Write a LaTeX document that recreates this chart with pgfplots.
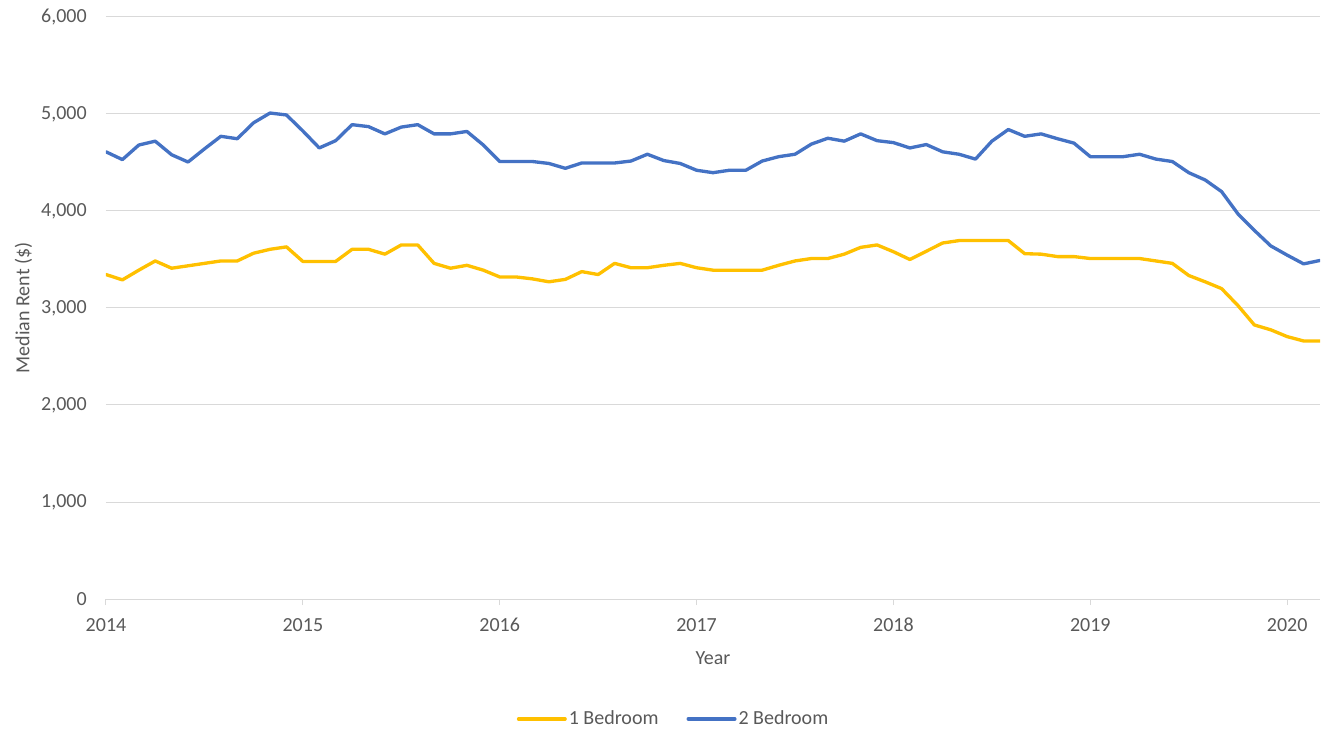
\documentclass[border=0pt]{standalone}
\usepackage{pgfplots}
\pgfplotsset{compat=1.18}
\usepackage{pgfplotstable}
\usepackage{fontspec}
\setmainfont{Carlito}
\usetikzlibrary{calc}

\definecolor{bedone}{HTML}{FFC000}
\definecolor{bedtwo}{HTML}{4472C4}
\definecolor{gridgray}{HTML}{D9D9D9}
\definecolor{textgray}{HTML}{595959}

% Monthly median rent, month 0 = January 2014
\pgfplotstableread{
m  one   two
0  3345  4610
1  3290  4530
2  3390  4680
3  3485  4720
4  3410  4580
5  3435  4505
6  3460  4640
7  3485  4770
8  3485  4745
9  3565  4910
10 3605  5010
11 3630  4990
12 3480  4825
13 3480  4650
14 3480  4725
15 3605  4890
16 3605  4870
17 3555  4795
18 3650  4865
19 3650  4890
20 3460  4795
21 3410  4795
22 3440  4820
23 3390  4680
24 3320  4510
25 3320  4510
26 3300  4510
27 3270  4490
28 3295  4440
29 3375  4495
30 3345  4495
31 3460  4495
32 3415  4515
33 3415  4585
34 3440  4520
35 3460  4490
36 3415  4420
37 3390  4395
38 3390  4420
39 3390  4420
40 3390  4515
41 3440  4560
42 3485  4585
43 3510  4690
44 3510  4750
45 3555  4720
46 3625  4795
47 3650  4725
48 3580  4705
49 3500  4650
50 3585  4685
51 3670  4610
52 3695  4585
53 3695  4535
54 3695  4720
55 3695  4840
56 3560  4770
57 3555  4795
58 3530  4745
59 3530  4700
60 3510  4560
61 3510  4560
62 3510  4560
63 3510  4585
64 3485  4535
65 3460  4510
66 3335  4395
67 3270  4320
68 3200  4200
69 3025  3970
70 2825  3800
71 2775  3640
72 2705  3545
73 2660  3455
74 2660  3490
}\rentdata

\begin{document}
\fontsize{15}{18}\selectfont
\begin{tikzpicture}
\begin{axis}[
  name=ax,
  scale only axis,
  width=910.5pt, height=436.5pt,
  xmin=0, xmax=74, ymin=0, ymax=6000,
  xtick={0,12,...,72},
  xticklabels={2014,2015,2016,2017,2018,2019,2020},
  ytick={0,1000,...,6000},
  scaled y ticks=false,
  /pgf/number format/assume math mode=true,
  /pgf/number format/1000 sep={,},
  axis x line*=bottom, axis y line*=left,
  x axis line style={draw=gridgray, line width=0.75pt},
  y axis line style={draw=none},
  ymajorgrids,
  grid style={draw=gridgray, line width=0.75pt},
  tick align=outside,
  major tick length=4.5pt,
  xtick style={draw=gridgray, line width=0.75pt},
  ytick style={draw=none},
  tick label style={text=textgray},
  xticklabel style={anchor=north, inner sep=0pt, yshift=-9.75pt},
  yticklabel style={anchor=east, inner sep=0pt, xshift=-9.75pt},
  label style={text=textgray},
  xlabel={Year},
  ylabel={Median Rent (\$)},
  xlabel style={at={(axis description cs:0.5,-0.1014)}, anchor=center},
  ylabel style={at={(axis description cs:-0.068,0.5)}, anchor=center},
  legend columns=2,
  legend style={draw=none, fill=none, text=textgray,
    at={(axis description cs:0.4675,-0.206)}, anchor=center,
    /tikz/every even column/.append style={column sep=19.5pt},
    nodes={inner sep=1.5pt}},
  legend image code/.code={\draw[#1] (0pt,0pt) -- (35pt,0pt);},
  every axis plot/.append style={line width=2.5pt, line join=round, line cap=round},
]
\addplot[bedone] table[x=m, y=one] {\rentdata};
\addlegendentry{1 Bedroom}
\addplot[bedtwo] table[x=m, y=two] {\rentdata};
\addlegendentry{2 Bedroom}
\end{axis}
\pgfresetboundingbox
\path ($(ax.south west)+(-79.5pt,-99pt)$) rectangle ($(ax.north east)+(6.75pt,12.75pt)$);
\end{tikzpicture}
\end{document}
